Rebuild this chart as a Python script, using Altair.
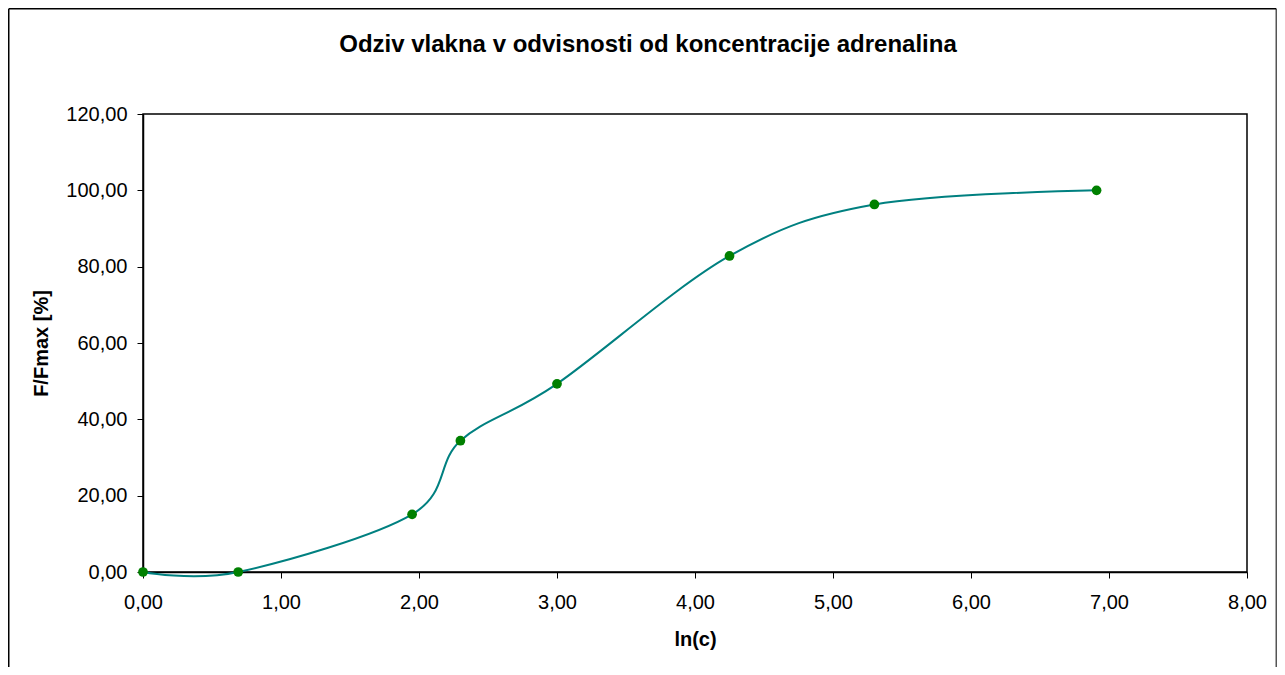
import altair as alt
import pandas as pd

# Data
ln_c = [0.00, 0.69, 1.95, 2.30, 3.00, 4.25, 5.30, 6.91]
f_fmax = [0.00, 0.00, 15.1, 34.4, 49.3, 82.8, 96.3, 100.0]
x_ticks = [0, 1, 2, 3, 4, 5, 6, 7, 8]
y_ticks = [0, 20, 40, 60, 80, 100, 120]
chart_title = ["Odziv vlakna v odvisnosti od koncentracije adrenalina"]

df = pd.DataFrame({"ln_c": ln_c, "f": f_fmax})
W, H = 1104, 458
PAD = {"left": 135, "top": 106, "right": 30, "bottom": 95}
FONT = "Liberation Sans"
fmt = "replace(format(datum.value, '.2f'), '.', ',')"

x_enc = alt.X(
    "ln_c:Q",
    scale=alt.Scale(domain=[0, 8], nice=False, zero=False),
    axis=alt.Axis(title="ln(c)", values=x_ticks, labelExpr=fmt,
                  labelFlush=False, labelPadding=14, titlePadding=17),
)
y_enc = alt.Y(
    "f:Q",
    scale=alt.Scale(domain=[0, 120], nice=False, zero=False),
    axis=alt.Axis(title="F/Fmax [%]", values=y_ticks, labelExpr=fmt,
                  labelFlush=False, labelPadding=10, titlePadding=14),
)

base = alt.Chart(df).encode(x=x_enc, y=y_enc)
line = base.mark_line(interpolate="cardinal", color="#008080", strokeWidth=2)
points = base.mark_circle(size=95, color="#008000", opacity=1)

# Outer chart-area frame (left, top, right edges; bottom lies below the page)
L = -PAD["left"] + 0.75
T = -PAD["top"] + 0.75
R = W + PAD["right"] - 0.75
B = H + PAD["bottom"]
one = pd.DataFrame({"a": [0]})
frame_left = alt.Chart(one).mark_rule(color="black", strokeWidth=1.5).encode(
    x=alt.value(L), y=alt.value(T), y2=alt.value(B))
frame_right = alt.Chart(one).mark_rule(color="#555555", strokeWidth=1.5).encode(
    x=alt.value(R), y=alt.value(T), y2=alt.value(B))
frame_top = alt.Chart(one).mark_rule(color="black", strokeWidth=1.5).encode(
    x=alt.value(L), x2=alt.value(R), y=alt.value(T))

title_txt = alt.Chart(pd.DataFrame({"t": chart_title})).mark_text(
    font=FONT, fontSize=24, fontWeight="bold", align="center",
    baseline="alphabetic", color="black"
).encode(text="t:N", x=alt.value(505), y=alt.value(-62))

chart = alt.layer(frame_left, frame_right, frame_top, line, points, title_txt).properties(
    width=W, height=H,
    autosize=alt.AutoSizeParams(type="none"),
    padding=PAD,
    background="white",
).configure_view(
    stroke="black", strokeWidth=1.5
).configure_axis(
    grid=False, domainColor="black", domainWidth=1.5, tickColor="black",
    tickSize=6, tickWidth=1, labelColor="black", titleColor="black",
    labelFont=FONT, labelFontSize=20, titleFont=FONT, titleFontSize=20,
    titleFontWeight="bold",
)

chart.save("out.html", embed_options={"renderer": "svg", "actions": False})
